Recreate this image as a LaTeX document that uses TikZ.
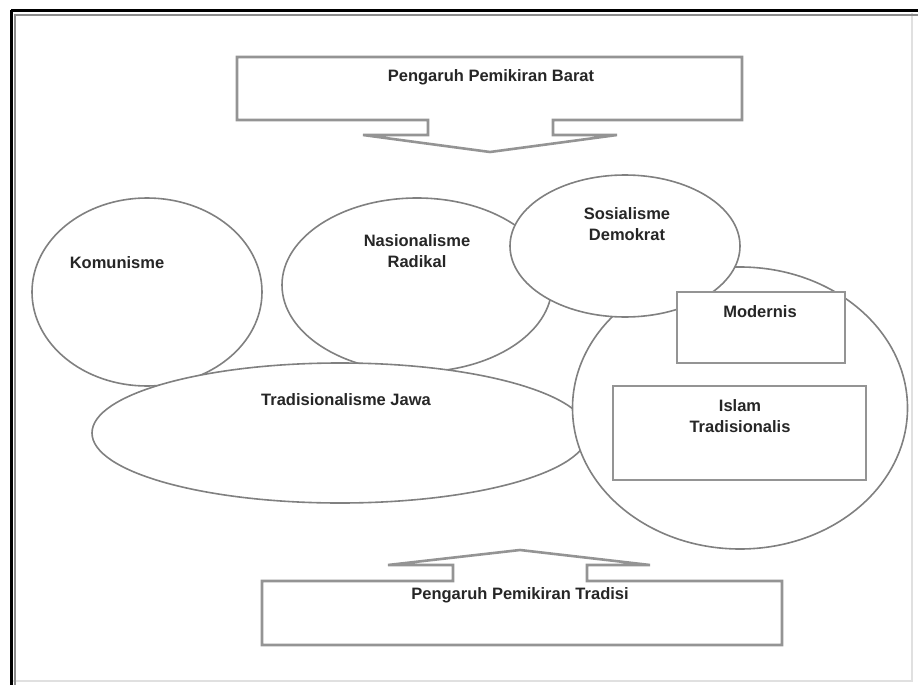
\documentclass[tikz,border=0pt]{standalone}
\usepackage{fontspec}
\setmainfont{Liberation Sans}
\usetikzlibrary{shapes.geometric}
\begin{document}
\begin{tikzpicture}[x=1pt,y=-1pt,
  shapeline/.style={draw=black!50, line width=1.6pt, fill=white},
  boxline/.style={draw=black!42, line width=2.6pt, fill=white},
  oval/.style={shapeline, ellipse, inner sep=0pt},
  lbl/.style={font=\fontsize{16.5}{21}\selectfont\bfseries, text=black!85, align=center, inner sep=0pt}]
\useasboundingbox (0,0) rectangle (918,685);
% outer frame
\draw[black!12, line width=1.5pt] (912,13) -- (912,681) -- (13,681);
\draw[black!45, line width=2pt] (14,15) -- (918,15);
\draw[black!45, line width=2pt] (15,14) -- (15,685);
\draw[black, line width=3pt] (11,11) -- (918,11);
\draw[black, line width=3pt] (11,10) -- (11,685);

% top callout
\draw[boxline] (237,57) -- (742,57) -- (742,120) -- (553,120) -- (553,135) -- (617,135)
  -- (490,152) -- (363,135) -- (428,135) -- (428,120) -- (237,120) -- cycle;
\node[lbl] (barat) at (491,77) {Pengaruh Pemikiran Barat};

% bottom callout
\draw[boxline] (262,581) -- (453,581) -- (453,565) -- (388,565) -- (520,550) -- (650,565)
  -- (587,565) -- (587,581) -- (782,581) -- (782,645) -- (262,645) -- cycle;
\node[lbl] (tradisi) at (520,595) {Pengaruh Pemikiran Tradisi};

% ellipses (drawing order gives the overlaps)
\node[oval, minimum width=230pt, minimum height=188pt] (kom) at (147,292) {};
\node[lbl] (komt) at (117,263) {Komunisme};

\node[oval, minimum width=270pt, minimum height=174pt] (nas) at (417,285) {};
\node[lbl] (nast) at (417,251) {Nasionalisme\\Radikal};

\node[oval, minimum width=496pt, minimum height=140pt] (jawa) at (340,433) {};
\node[lbl] (jawat) at (346,400) {Tradisionalisme Jawa};

\node[oval, minimum width=335pt, minimum height=282pt] (islamc) at (740,408) {};

\node[oval, minimum width=230pt, minimum height=142pt] (sos) at (625,246) {};
\node[lbl] (sost) at (627,224) {Sosialisme\\Demokrat};

% rectangles inside big circle
\draw[boxline, line width=2.2pt] (677,292) rectangle (845,363);
\node[lbl] (mod) at (760,312) {Modernis};
\draw[boxline, line width=2.2pt] (613,386) rectangle (866,480);
\node[lbl] (ist) at (740,416) {Islam\\Tradisionalis};
\end{tikzpicture}
\end{document}
